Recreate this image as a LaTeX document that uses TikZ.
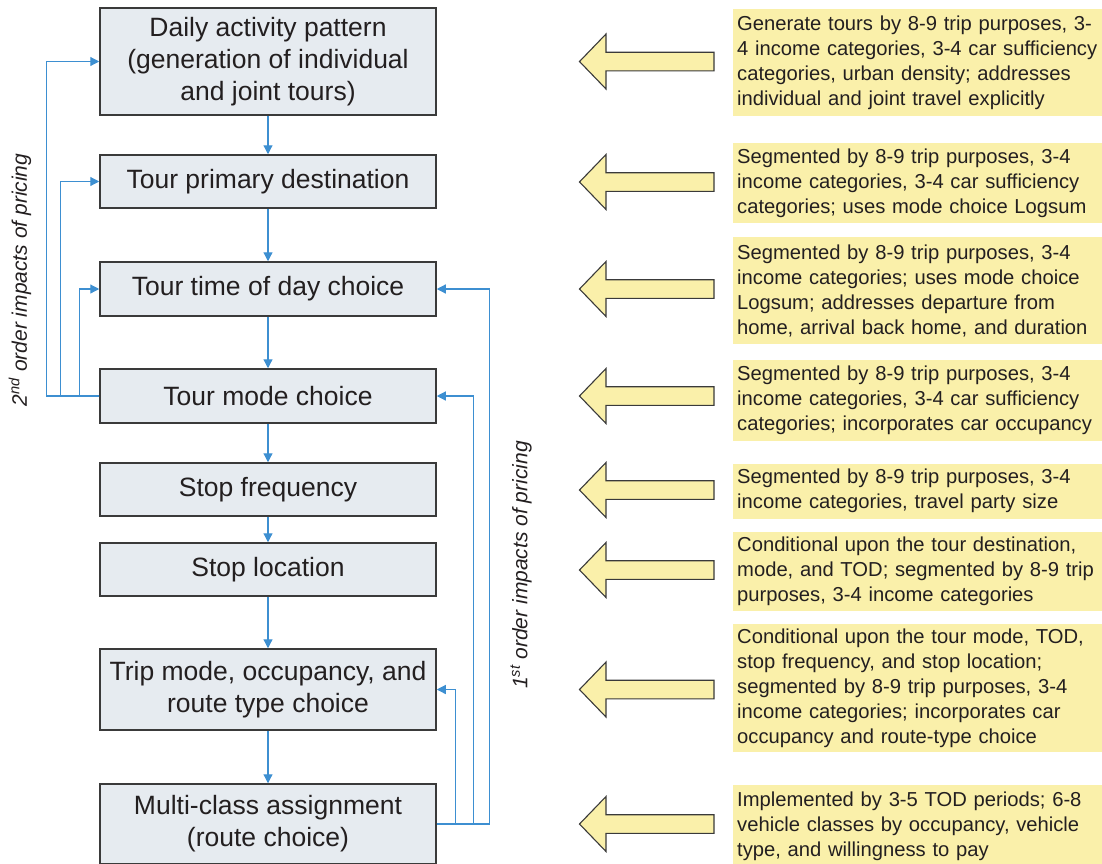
\documentclass[tikz,border=0pt]{standalone}
\usepackage{fontspec}
\setmainfont{Liberation Sans}
\usepackage{xcolor}
\usetikzlibrary{arrows.meta}
\definecolor{boxfill}{HTML}{E6EBF0}
\definecolor{boxline}{HTML}{3A3A3A}
\definecolor{flowblue}{HTML}{3D8FD1}
\definecolor{notefill}{HTML}{FAF0AA}
\definecolor{inktext}{HTML}{231F20}
\tikzset{>={Triangle[length=9pt,width=9pt]}}
\tikzset{
  stage/.style={draw=boxline, fill=boxfill, line width=1.5pt, minimum width=336pt,
    inner sep=0pt, align=center, text=inktext, font=\fontsize{26.5}{32}\selectfont},
  note/.style={fill=notefill, anchor=west, text width=392pt, inner xsep=4pt, inner ysep=0pt,
    align=left, text=inktext, font=\fontsize{20.2}{25}\selectfont},
  flow/.style={draw=flowblue, line width=1.2pt, ->},
  blockarrow/.style={draw=boxline, fill=notefill, line width=1.1pt, line join=miter},
  impact/.style={rotate=90, text=inktext, font=\fontsize{21}{25}\selectfont\itshape}
}

\begin{document}
\begin{tikzpicture}[x=1pt,y=-1pt]
\useasboundingbox (0,0) rectangle (1102,863);
% model chain
\node[stage, minimum height=107pt] (dap) at (268,61.5) {Daily activity pattern\\(generation of individual\\and joint tours)};
\node[stage, minimum height=53pt] (tpd) at (268,181.5) {Tour primary destination};
\node[stage, minimum height=54pt] (ttd) at (268,289) {Tour time of day choice};
\node[stage, minimum height=54pt] (tmc) at (268,396) {Tour mode choice};
\node[stage, minimum height=53pt] (sfq) at (268,489.5) {Stop frequency};
\node[stage, minimum height=53pt] (sloc) at (268,569.5) {Stop location};
\node[stage, minimum height=81pt] (trip) at (268,689.5) {Trip mode, occupancy, and\\route type choice};
\node[stage, minimum height=80pt] (mca) at (268,824) {Multi-class assignment\\(route choice)};
\draw[flow] (dap) -- (tpd);
\draw[flow] (tpd) -- (ttd);
\draw[flow] (ttd) -- (tmc);
\draw[flow] (tmc) -- (sfq);
\draw[flow] (sfq) -- (sloc);
\draw[flow] (sloc) -- (trip);
\draw[flow] (trip) -- (mca);
%%%%%%%%%% feedback loops
\draw[flow] (tmc.west) -- ++(-53,0) |- (dap.west);
\draw[flow] (tmc.west) -- ++(-39,0) |- (tpd.west);
\draw[flow] (tmc.west) -- ++(-20,0) |- (ttd.west);
\draw[flow] (mca.east) -- ++(53,0) |- (ttd.east);
\draw[flow] (mca.east) -- ++(37,0) |- (tmc.east);
\draw[flow] (mca.east) -- ++(19,0) |- (trip.east);
\node[impact] (second) at (20,280) {2\textsuperscript{nd} order impacts of pricing};
\node[impact] (first) at (521,565) {1\textsuperscript{st} order impacts of pricing};
%%%%%%%%%% notes
\foreach \cy in {61.5,182,289,396,490,570,689.5,824}
  \draw[blockarrow] (579.5,\cy) -- (606,\cy-27.5) -- (606,\cy-9.3) -- (714,\cy-9.3)
    -- (714,\cy+9.3) -- (606,\cy+9.3) -- (606,\cy+27.5) -- cycle;
\node[note, minimum height=107pt] (n1) at (733,62.5) {Generate tours by 8-9 trip purposes, 3-\\4 income categories, 3-4 car sufficiency\\categories, urban density; addresses\\individual and joint travel explicitly};
\node[note, minimum height=80pt] (n2) at (733,183) {Segmented by 8-9 trip purposes, 3-4\\income categories, 3-4 car sufficiency\\categories; uses mode choice Logsum};
\node[note, minimum height=107pt] (n3) at (733,290.5) {Segmented by 8-9 trip purposes, 3-4\\income categories; uses mode choice\\Logsum; addresses departure from\\home, arrival back home, and duration};
\node[note, minimum height=81pt] (n4) at (733,400) {Segmented by 8-9 trip purposes, 3-4\\income categories, 3-4 car sufficiency\\categories; incorporates car occupancy};
\node[note, minimum height=55pt] (n5) at (733,491) {Segmented by 8-9 trip purposes, 3-4\\income categories, travel party size};
\node[note, minimum height=79pt] (n6) at (733,571.5) {Conditional upon the tour destination,\\mode, and TOD; segmented by 8-9 trip\\purposes, 3-4 income categories};
\node[note, minimum height=128pt] (n7) at (733,688) {Conditional upon the tour mode, TOD,\\stop frequency, and stop location;\\segmented by 8-9 trip purposes, 3-4\\income categories; incorporates car\\occupancy and route-type choice};
\node[note, minimum height=82pt] (n8) at (733,826) {Implemented by 3-5 TOD periods; 6-8\\vehicle classes by occupancy, vehicle\\type, and willingness to pay};
\end{tikzpicture}
\end{document}
